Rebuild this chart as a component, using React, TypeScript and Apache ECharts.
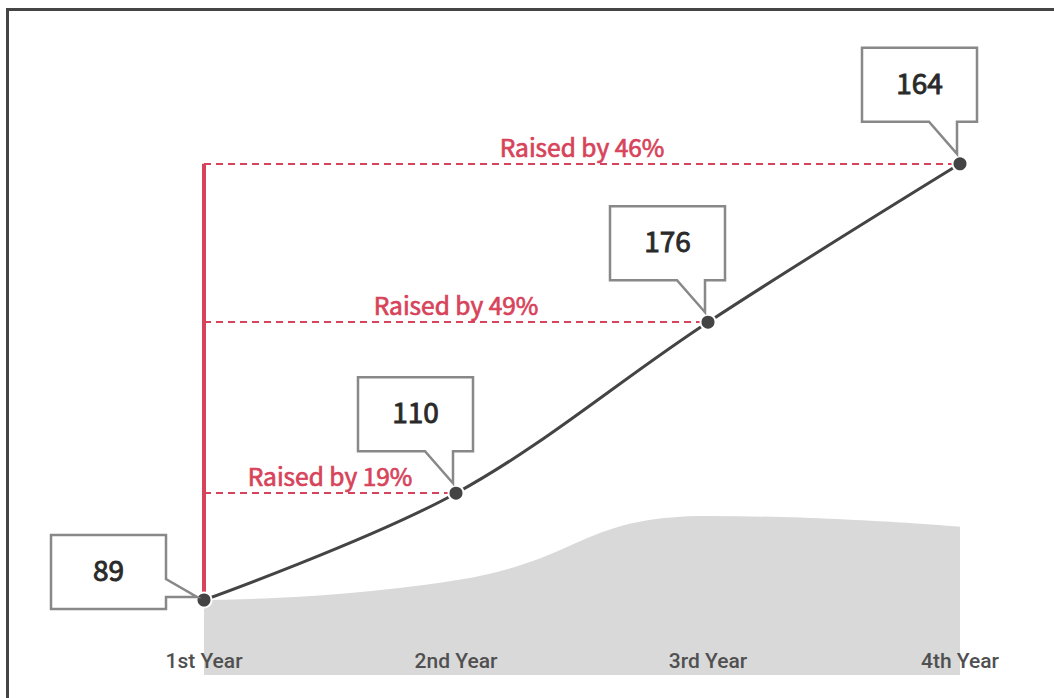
import React, { useEffect, useRef } from "react";
import * as echarts from "echarts";

const categories = ["1st Year", "2nd Year", "3rd Year", "4th Year"];
const lineValues = [12.5, 30.3, 58.8, 85.2];
const areaValues = [12.5, 15.8, 26.5, 24.7];
const calloutValues = [89, 110, 176, 164];
const raisedLabels = ["", "Raised by 19%", "Raised by 49%", "Raised by 46%"];

const RED = "#d7435a";
const DARK = "#444444";

export default function App() {
  const ref = useRef<HTMLDivElement>(null);
  useEffect(() => {
    if (!ref.current) return;
    const chart = echarts.init(ref.current, null, { renderer: "svg" });

    const markData: any[] = [];
    for (let i = 1; i < categories.length; i++) {
      markData.push([
        { coord: [categories[0], lineValues[i]] },
        {
          coord: [categories[i], lineValues[i]],
          label: {
            show: true,
            formatter: raisedLabels[i],
          },
        },
      ]);
    }
    markData.push([
      {
        coord: [categories[0], lineValues[categories.length - 1]],
        lineStyle: { type: "solid", width: 4 },
        label: { show: false },
      },
      { coord: [categories[0], lineValues[0]] },
    ]);

    const option: any = {
      animation: false,
      grid: { left: 204, right: 94, top: 75, bottom: 23 },
      xAxis: {
        type: "category",
        data: categories,
        boundaryGap: false,
        axisLine: { show: false },
        axisTick: { show: false },
        splitLine: { show: false },
        axisLabel: {
          inside: true,
          margin: 4,
          color: "#505050",
          fontSize: 21,
          fontWeight: 500,
          fontFamily: "Roboto",
        },
        z: 10,
      },
      yAxis: {
        type: "value",
        min: 0,
        max: 100,
        show: false,
      },
      series: [
        {
          type: "line",
          data: areaValues,
          smooth: 0.5,
          symbol: "none",
          lineStyle: { width: 0 },
          areaStyle: { color: "#d9d9d9", opacity: 1 },
          z: 1,
        },
        {
          type: "line",
          data: lineValues,
          smooth: 0.35,
          symbol: "circle",
          symbolSize: 15,
          lineStyle: { color: DARK, width: 3 },
          itemStyle: { color: DARK, borderColor: "#fff", borderWidth: 2 },
          z: 5,
          markLine: {
            silent: true,
            symbol: ["none", "none"],
            lineStyle: { color: RED, type: [7, 5], width: 2 },
            label: {
              show: true,
              position: "insideMiddleTop",
              distance: 5,
              color: RED,
              fontSize: 24.5,
              fontFamily: "Noto Sans CJK SC",
              textBorderColor: RED,
              textBorderWidth: 0.7,
            },
            data: markData,
            z: 3,
          },
        },
        {
          type: "custom",
          clip: false,
          z: 20,
          data: categories.map((c, i) => [i, lineValues[i], calloutValues[i]]),
          encode: { x: 0, y: 1 },
          renderItem: (params: any, api: any) => {
            const p = api.coord([api.value(0), api.value(1)]);
            const px = p[0];
            const py = p[1];
            const label = String(api.value(2));
            let pts: number[][];
            let L: number, R: number, T: number, B: number;
            if (params.dataIndex === 0) {
              R = px - 38;
              L = R - 115;
              T = py - 65;
              B = py + 9;
              pts = [
                [L, T],
                [R, T],
                [R, py - 21],
                [px - 7, py - 3],
                [R, py - 3],
                [R, B],
                [L, B],
              ];
            } else {
              R = px + 17;
              L = R - 115;
              B = py - 42;
              T = B - 74;
              const tipX = px - 3;
              const tipY = py - 10;
              pts = [
                [L, T],
                [R, T],
                [R, B],
                [tipX, B],
                [tipX, tipY],
                [px - 31, B],
                [L, B],
              ];
            }
            return {
              type: "group",
              children: [
                {
                  type: "polygon",
                  shape: { points: pts },
                  style: { fill: "#fff", stroke: "#888", lineWidth: 2.5 },
                },
                {
                  type: "text",
                  x: (L + R) / 2,
                  y: (T + B) / 2 - 3,
                  style: {
                    text: label,
                    fill: "#2a2a2a",
                    stroke: "#2a2a2a",
                    lineWidth: 0.9,
                    fontSize: 28,
                    fontFamily: "Noto Sans CJK SC",
                    align: "center",
                    verticalAlign: "middle",
                  },
                },
              ],
            };
          },
        },
      ],
    };
    chart.setOption(option);
    return () => chart.dispose();
  }, []);

  return (
    <div
      style={{
        position: "fixed",
        left: 0,
        top: 0,
        width: 1054,
        height: 698,
        overflow: "hidden",
        background: "#fff",
      }}
    >
      <div
        style={{
          position: "absolute",
          left: 6,
          top: 8,
          width: 1100,
          height: 720,
          border: "3px solid #454545",
          boxSizing: "border-box",
        }}
      />
      <div
        ref={ref}
        style={{ position: "absolute", left: 0, top: 0, width: 1054, height: 698 }}
      />
    </div>
  );
}
